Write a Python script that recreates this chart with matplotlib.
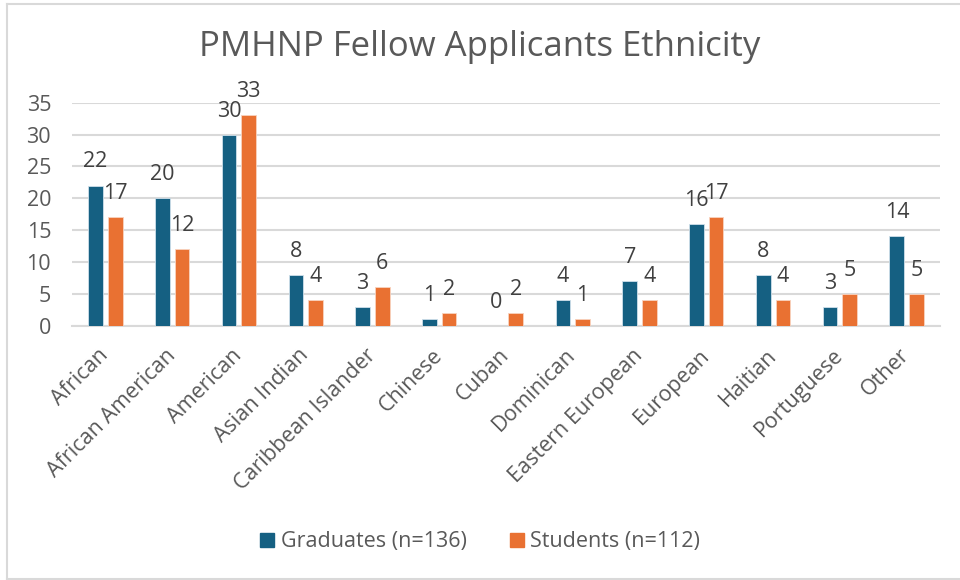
import matplotlib
matplotlib.use("Agg")
import matplotlib.pyplot as plt
from matplotlib.lines import Line2D
import numpy as np

categories = ["African", "African American", "American", "Asian Indian", "Caribbean Islander",
              "Chinese", "Cuban", "Dominican", "Eastern European", "European", "Haitian",
              "Portuguese", "Other"]
graduates = [22, 20, 30, 8, 3, 1, 0, 4, 7, 16, 8, 3, 14]
students = [17, 12, 33, 4, 6, 2, 2, 1, 4, 17, 4, 5, 5]
series_names = ["Graduates (n=136)", "Students (n=112)"]
title = "PMHNP Fellow Applicants Ethnicity"

BLUE = "#156082"
ORANGE = "#E97132"
TXT = "#595959"
GRID = "#D9D9D9"

plt.rcParams['font.family'] = ['Open Sans', 'DejaVu Sans']

fig = plt.figure(figsize=(9.6, 5.8), dpi=100)
ax = fig.add_axes([72/960, 1-325.7/580, (940-72)/960, (325.7-102.7)/580])

x = np.arange(len(categories))
w = 0.22
off = 0.147
b1 = ax.bar(x - off, graduates, w, color=BLUE, edgecolor="#cfe0ea", linewidth=0.6, label=series_names[0], zorder=3)
b2 = ax.bar(x + off, students, w, color=ORANGE, edgecolor="#f8d3bf", linewidth=0.6, label=series_names[1], zorder=3)

FS = 15.5
for bars, vals in ((b1, graduates), (b2, students)):
    for r, v in zip(bars, vals):
        ax.annotate(str(v), (r.get_x() + r.get_width()/2, v), xytext=(0, 13),
                    textcoords="offset points", ha="center", va="baseline",
                    fontsize=FS, color="#404040")

ax.set_xlim(-0.5, len(categories) - 0.5)
ax.set_ylim(0, 35)
ax.set_yticks(range(0, 36, 5))
ax.yaxis.grid(True, color=GRID, linewidth=1.5, zorder=0)
ax.set_axisbelow(True)
for s in ("top", "right", "left"):
    ax.spines[s].set_visible(False)
ax.spines["bottom"].set_color(GRID)
ax.spines["bottom"].set_linewidth(1.5)
ax.tick_params(axis="both", length=0, labelsize=FS, labelcolor=TXT)
ax.tick_params(axis="y", pad=15)
ax.set_xticks(x)
ax.set_xticklabels(categories, rotation=45, ha="right", va="center", rotation_mode="anchor")
ax.tick_params(axis="x", pad=19)

fig.text(0.5, 1-47/580, title, ha="center", va="center", fontsize=25, color=TXT)

handles = [plt.Rectangle((0, 0), 1, 1, color=BLUE), plt.Rectangle((0, 0), 1, 1, color=ORANGE)]
fig.legend(handles, series_names, loc="center", bbox_to_anchor=(0.5, 1-542/580), ncol=2,
           frameon=False, fontsize=FS, labelcolor=TXT, handlelength=0.65, handleheight=0.65,
           handletextpad=0.3, columnspacing=2.0)

# chart border
fig.add_artist(Line2D([7/960, 1], [1-4/580, 1-4/580], color=GRID, linewidth=1.5, transform=fig.transFigure))
fig.add_artist(Line2D([7/960, 7/960], [1-4/580, 1-579/580], color=GRID, linewidth=1.5, transform=fig.transFigure))
fig.add_artist(Line2D([7/960, 1], [1-579/580, 1-579/580], color=GRID, linewidth=1.5, transform=fig.transFigure))

fig.savefig("out.png", dpi=100, facecolor="white")
